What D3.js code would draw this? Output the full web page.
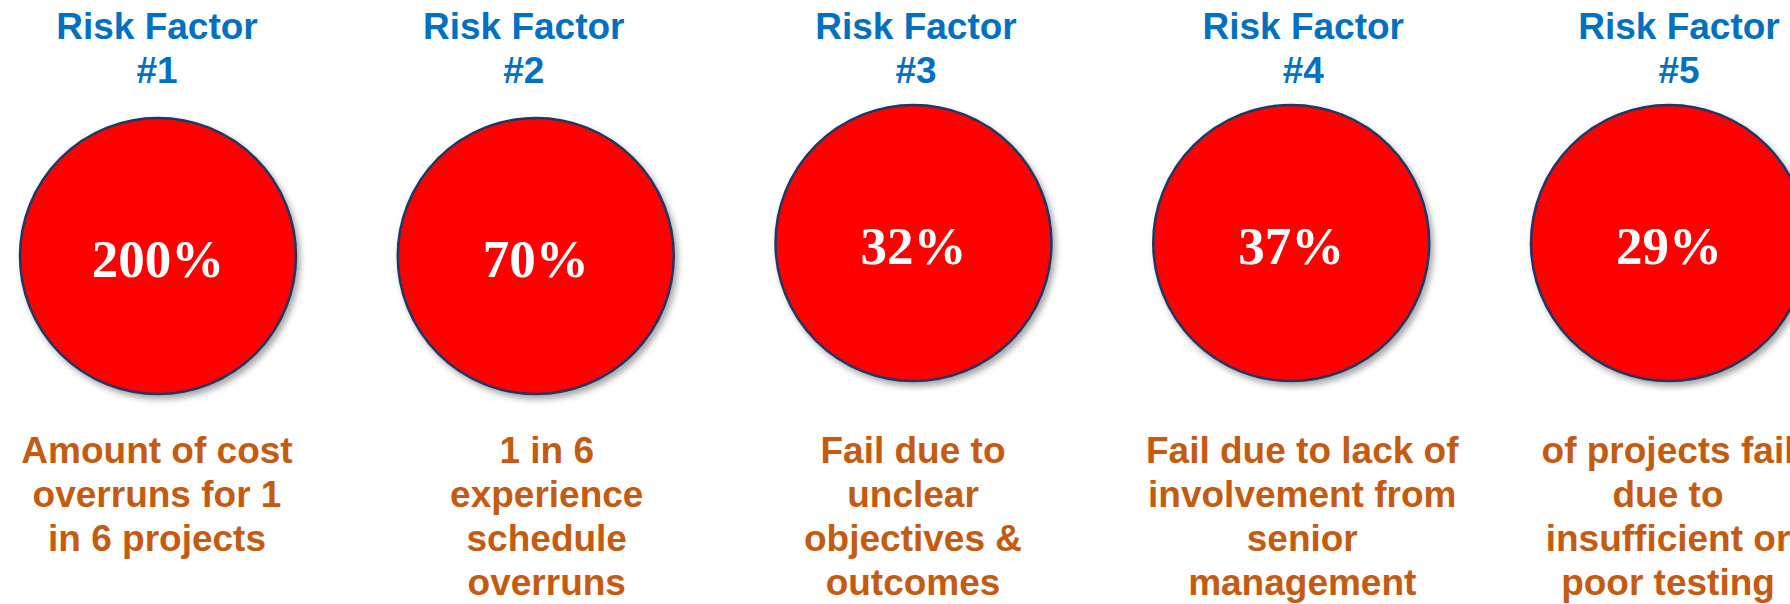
<!DOCTYPE html>
<html>
<head>
<meta charset="utf-8">
<script src="https://cdn.jsdelivr.net/npm/d3@7"></script>
<style>
  body { margin: 0; background: #fff; overflow: hidden; }
</style>
</head>
<body>
<div id="chart"></div>
<script>
// data
const factors = ["#1", "#2", "#3", "#4", "#5"];
const values = [200, 70, 32, 37, 29];
const descriptions = [
    ["Amount of cost", "overruns for 1", "in 6 projects"],
    ["1 in 6", "experience", "schedule", "overruns"],
    ["Fail due to", "unclear", "objectives &", "outcomes"],
    ["Fail due to lack of", "involvement from", "senior", "management"],
    ["of projects fail", "due to", "insufficient or", "poor testing"]
];

const width = 1790;
const height = 604;
const radius = 138;
const lineHeight = 44;

// the text boxes are not quite centred over the circles
const titleNudge = [-1, -12, 2.5, 12, 10];
const descNudge = [-1, 11, -0.5, 11, -1];

const svg = d3.select("#chart").append("svg")
    .attr("width", width)
    .attr("height", height);

// soft shadow under the circles
const filter = svg.append("defs").append("filter")
    .attr("id", "shadow")
    .attr("x", "-20%").attr("y", "-20%")
    .attr("width", "140%").attr("height", "140%");
filter.append("feDropShadow")
    .attr("dx", 3).attr("dy", 4)
    .attr("stdDeviation", 3)
    .attr("flood-color", "#000")
    .attr("flood-opacity", 0.35);

const x = d3.scalePoint()
    .domain(factors)
    .range([158, 1669]);

// first two circles sit a little lower than the others
const cy = i => i < 2 ? 256 : 243;

const cols = svg.selectAll(".factor")
    .data(factors)
    .enter()
    .append("g")
    .attr("class", "factor")
    .attr("transform", d => "translate(" + x(d) + ",0)");

// title
const title = cols.append("text")
    .attr("text-anchor", "middle")
    .attr("font-family", "Liberation Sans, Arial, sans-serif")
    .attr("font-weight", "bold")
    .attr("font-size", "37px")
    .attr("fill", "#0070C0");

title.append("tspan")
    .attr("x", (d, i) => titleNudge[i])
    .attr("y", 39)
    .text("Risk Factor");

title.append("tspan")
    .attr("x", (d, i) => titleNudge[i])
    .attr("y", 83)
    .text(d => d);

cols.append("circle")
    .attr("cy", (d, i) => cy(i))
    .attr("r", radius)
    .attr("fill", "#FF0000")
    .attr("stroke", "#1F3864")
    .attr("stroke-width", 2.5)
    .attr("filter", "url(#shadow)");

cols.append("text")
    .attr("y", (d, i) => cy(i) + 21)
    .attr("text-anchor", "middle")
    .attr("font-family", "Liberation Serif, Times New Roman, serif")
    .attr("font-weight", "bold")
    .attr("font-size", "53px")
    .attr("fill", "#fff")
    .text((d, i) => values[i] + "%");

// description lines
cols.append("text")
    .attr("text-anchor", "middle")
    .attr("font-family", "Liberation Sans, Arial, sans-serif")
    .attr("font-weight", "bold")
    .attr("font-size", "37px")
    .attr("fill", "#C55A11")
    .each(function(d, i) {
        d3.select(this).selectAll("tspan")
            .data(descriptions[i])
            .enter()
            .append("tspan")
            .attr("x", descNudge[i])
            .attr("y", (line, j) => 463 + j * lineHeight)
            .text(line => line);
    });
</script>
</body>
</html>
